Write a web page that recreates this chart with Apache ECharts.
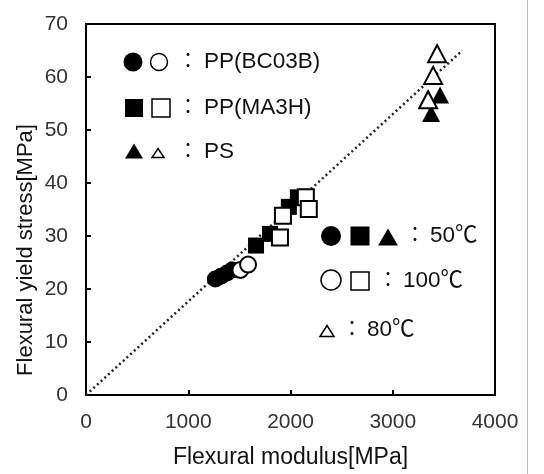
<!DOCTYPE html>
<html>
<head>
<meta charset="utf-8">
<script src="https://cdn.jsdelivr.net/npm/echarts@6/dist/echarts.min.js"></script>
<style>
  html, body { margin: 0; padding: 0; background: #fff; }
  #chart { width: 544px; height: 474px; }
</style>
</head>
<body>
<div id="chart"></div>
<script>
// values
const bc03bFilled = [[1265, 21.9], [1320, 22.4], [1380, 23.0], [1430, 23.6]];
const bc03bOpen = [[1510, 23.6], [1585, 24.6]];
const ma3hFilled = [[1663, 28.2], [1800, 30.4], [1984, 35.5], [2072, 37.3]];
const ma3hOpen = [[1897, 29.7], [1926, 33.8], [2150, 37.3], [2179, 35.1]];
const psFilled = [[3463, 56.6], [3375, 53.1]];
const psOpen = [[3434, 64.4], [3395, 60.3], [3346, 55.7]];
const refLine = [[0, 0], [3680, 65]];

const xTicks = { min: 0, max: 4000, step: 1000 };
const yTicks = { min: 0, max: 70, step: 10 };

const xTitle = 'Flexural modulus[MPa]';
const yTitle = 'Flexural yield stress[MPa]';
const matLabels = ['PP(BC03B)', 'PP(MA3H)', 'PS'];
const tempLabels = ['50℃', '100℃', '80℃'];

const FONT = '"Liberation Sans", "Noto Sans CJK JP", sans-serif';
const INK = '#111';

const chart = echarts.init(document.getElementById('chart'));

const filled = { color: '#000', opacity: 1 };
const hollow = { color: '#fff', borderColor: '#000', borderWidth: 2, opacity: 1 };

function scatter(name, data, symbol, size, style, z) {
  return { name, type: 'scatter', data, symbol, symbolSize: size, itemStyle: style, z };
}

// small helpers for the hand-built legends
const circ = (cx, cy, r, open) => ({
  type: 'circle', shape: { cx, cy, r },
  style: open ? { fill: '#fff', stroke: '#000', lineWidth: 1.5 } : { fill: '#000' }
});
const sq = (cx, cy, s, open) => ({
  type: 'rect', shape: { x: cx - s / 2, y: cy - s / 2, width: s, height: s },
  style: open ? { fill: '#fff', stroke: '#000', lineWidth: 1.5 } : { fill: '#000' }
});
const tri = (cx, cy, w, h, open) => ({
  type: 'polygon', shape: { points: [[cx, cy - h / 2], [cx + w / 2, cy + h / 2], [cx - w / 2, cy + h / 2]] },
  style: open ? { fill: '#fff', stroke: '#000', lineWidth: 1.5 } : { fill: '#000' }
});
const txt = (x, y, text, size, align) => ({
  type: 'text', x, y,
  style: { text, font: (size || 22.5) + 'px ' + FONT, fill: INK, align: align || 'left', verticalAlign: 'middle' }
});

chart.setOption({
  backgroundColor: '#fff',
  animation: false,
  grid: { left: 86, right: 49, top: 24, bottom: 73, show: true, borderColor: '#000', borderWidth: 2 },
  xAxis: {
    type: 'value', min: xTicks.min, max: xTicks.max, interval: xTicks.step,
    name: xTitle, nameLocation: 'middle', nameGap: 51,
    nameTextStyle: { fontFamily: FONT, fontSize: 23, color: INK },
    axisLine: { lineStyle: { color: '#000', width: 2 } },
    axisTick: { inside: true, length: 5, lineStyle: { color: '#000', width: 2 } },
    axisLabel: { fontFamily: FONT, fontSize: 21, color: '#333', margin: 17, formatter: v => String(v) },
    splitLine: { show: false }
  },
  yAxis: {
    type: 'value', min: yTicks.min, max: yTicks.max, interval: yTicks.step,
    axisLine: { lineStyle: { color: '#000', width: 2 } },
    axisTick: { inside: true, length: 5, lineStyle: { color: '#000', width: 2 } },
    axisLabel: { fontFamily: FONT, fontSize: 21, color: '#333', margin: 18 },
    splitLine: { show: false }
  },
  series: [
    {
      name: 'fit', type: 'line', data: refLine, symbol: 'none', z: 1,
      lineStyle: { color: '#222', width: 2.5, type: [2, 3] }
    },
    scatter('BC03B 50', bc03bFilled, 'circle', 17, filled, 2),
    scatter('BC03B 100', bc03bOpen, 'circle', 16, hollow, 3),
    scatter('MA3H 50', ma3hFilled, 'rect', 16, filled, 2),
    scatter('MA3H 100', ma3hOpen, 'rect', 16, hollow, 3),
    scatter('PS 50', psFilled, 'triangle', [18, 17], filled, 2),
    scatter('PS 80', psOpen, 'triangle', [18, 17], hollow, 3)
  ],
  graphic: [
    { type: 'line', shape: { x1: 527.5, y1: 0, x2: 527.5, y2: 474 }, style: { stroke: '#bbb', lineWidth: 1 } },
    // y axis title, sits a bit below the axis middle in the reference
    {
      type: 'text', x: 26, y: 250, rotation: Math.PI / 2,
      style: { text: yTitle, font: '22px ' + FONT, fill: INK, align: 'center', verticalAlign: 'middle' }
    },
    // material legend
    circ(133, 62, 9.5, false), circ(159, 62, 8.5, true),
    txt(188, 62, '：', 20, 'center'), txt(204, 62, matLabels[0]),
    sq(134, 108, 18, false), sq(161, 108, 18, true),
    txt(188, 108, '：', 20, 'center'), txt(204, 108, matLabels[1]),
    tri(134, 151, 18, 15, false), tri(158, 153, 12, 9, true),
    txt(188, 152, '：', 20, 'center'), txt(204, 152, matLabels[2]),
    // temperature legend
    circ(331, 236, 10, false), sq(360, 236, 19, false), tri(388, 237, 20, 17, false),
    txt(415, 236, '：', 20, 'center'), txt(430, 236, tempLabels[0]),
    circ(331, 280, 10, true), sq(360, 281, 18, true),
    txt(388, 281, '：', 20, 'center'), txt(403, 281, tempLabels[1]),
    tri(327, 331, 14, 11, true),
    txt(352, 330, '：', 20, 'center'), txt(367, 330, tempLabels[2])
  ]
});
</script>
</body>
</html>
